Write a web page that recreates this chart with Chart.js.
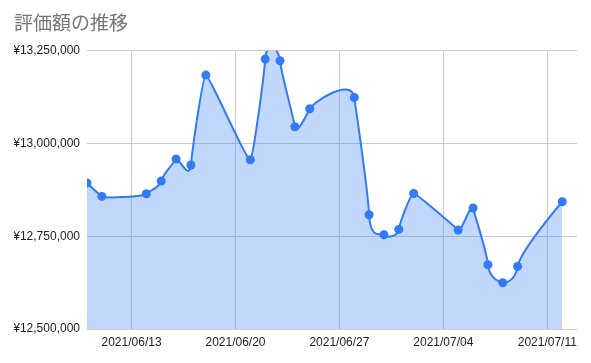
<!DOCTYPE html>
<html>
<head>
<meta charset="utf-8">
<script src="https://cdn.jsdelivr.net/npm/chart.js@4/dist/chart.umd.min.js"></script>
<style>
  body { margin: 0; background: #fff; }
  canvas { display: block; }
</style>
</head>
<body>
<canvas id="valueChart" width="591" height="363"></canvas>
<script>
// 評価額の推移 (daily values)
const dates = [
    '2021/06/10', '2021/06/11', '2021/06/14', '2021/06/15', '2021/06/16', '2021/06/17',
    '2021/06/18', '2021/06/21', '2021/06/22', '2021/06/23', '2021/06/24', '2021/06/25',
    '2021/06/28', '2021/06/29', '2021/06/30', '2021/07/01', '2021/07/02', '2021/07/05',
    '2021/07/06', '2021/07/07', '2021/07/08', '2021/07/09', '2021/07/12'
];
const values = [
    12893500, 12857400, 12864600, 12898900, 12958200, 12942000,
    13184500, 12956300, 13227700, 13223100, 13045200, 13093700,
    13124200, 12808000, 12754100, 12768400, 12865400, 12766800,
    12826100, 12673300, 12624800, 12668700, 12843100
];
const xTickLabels = ['2021/06/13', '2021/06/20', '2021/06/27', '2021/07/04', '2021/07/11'];
const yTicks = [12500000, 12750000, 13000000, 13250000];
const axisStart = '2021/06/10';
const axisEnd = '2021/07/13';

function dayIndex(str) {
    const p = str.split('/').map(Number);
    const base = axisStart.split('/').map(Number);
    return Math.round((Date.UTC(p[0], p[1] - 1, p[2]) - Date.UTC(base[0], base[1] - 1, base[2])) / 86400000);
}

const points = dates.map((d, i) => ({ x: dayIndex(d), y: values[i] }));
const tickPositions = xTickLabels.map(dayIndex);

const blue = 'rgb(51,122,246)';
const fontFamily = '"Liberation Sans", Arial, sans-serif';

// smoothing closer to the original: tangents mostly vertical, short in x
const curvePlugin = {
    id: 'functionCurve',
    afterDatasetsUpdate(chart) {
        chart.getSortedVisibleDatasetMetas().forEach(meta => {
            const pts = meta.data;
            meta.dataset.updateControlPoints(chart.chartArea);
            pts.forEach((p, i) => {
                let dx = 0, dy = 0;
                if (i > 0 && i < pts.length - 1) {
                    dx = (pts[i + 1].x - pts[i - 1].x) * 0.05;
                    dy = (pts[i + 1].y - pts[i - 1].y) * 0.2;
                }
                p.cp1x = p.x - dx;
                p.cp1y = p.y - dy;
                p.cp2x = p.x + dx;
                p.cp2y = p.y + dy;
            });
        });
    }
};

new Chart(document.getElementById('valueChart').getContext('2d'), {
    type: 'line',
    data: {
        datasets: [{
            data: points,
            borderColor: blue,
            backgroundColor: 'rgba(51,122,246,0.3)',
            borderWidth: 2,
            fill: 'origin',
            tension: 0.4,
            pointRadius: 4.5,
            pointBackgroundColor: blue,
            pointBorderWidth: 0
        }]
    },
    plugins: [curvePlugin],
    options: {
        responsive: false,
        animation: false,
        events: [],
        layout: { padding: { left: 14, right: 14, top: 0, bottom: 0 } },
        plugins: {
            legend: { display: false },
            tooltip: { enabled: false },
            title: {
                display: true,
                text: '評価額の推移',
                align: 'start',
                color: '#757575',
                font: { family: '"Noto Sans CJK JP", sans-serif', size: 19, weight: 'normal' },
                padding: { top: 11, bottom: 17 }
            }
        },
        scales: {
            x: {
                type: 'linear',
                min: dayIndex(axisStart),
                max: dayIndex(axisEnd),
                afterBuildTicks: scale => {
                    scale.ticks = tickPositions.map(v => ({ value: v }));
                },
                afterFit: scale => { scale.height = 34; },
                border: { display: false },
                grid: { color: '#cccccc', drawTicks: false },
                ticks: {
                    padding: 6,
                    color: '#222222',
                    maxRotation: 0,
                    autoSkip: false,
                    font: { family: fontFamily, size: 12 },
                    callback: v => xTickLabels[tickPositions.indexOf(v)]
                }
            },
            y: {
                min: yTicks[0],
                max: yTicks[yTicks.length - 1],
                afterBuildTicks: scale => {
                    scale.ticks = yTicks.map(v => ({ value: v }));
                },
                afterFit: scale => { scale.width = 73; },
                border: { display: false },
                grid: { color: '#cccccc', drawTicks: false },
                ticks: {
                    padding: 7,
                    color: '#222222',
                    font: { family: fontFamily, size: 12 },
                    callback: v => '¥' + v.toLocaleString('en-US')
                }
            }
        }
    }
});
</script>
</body>
</html>
